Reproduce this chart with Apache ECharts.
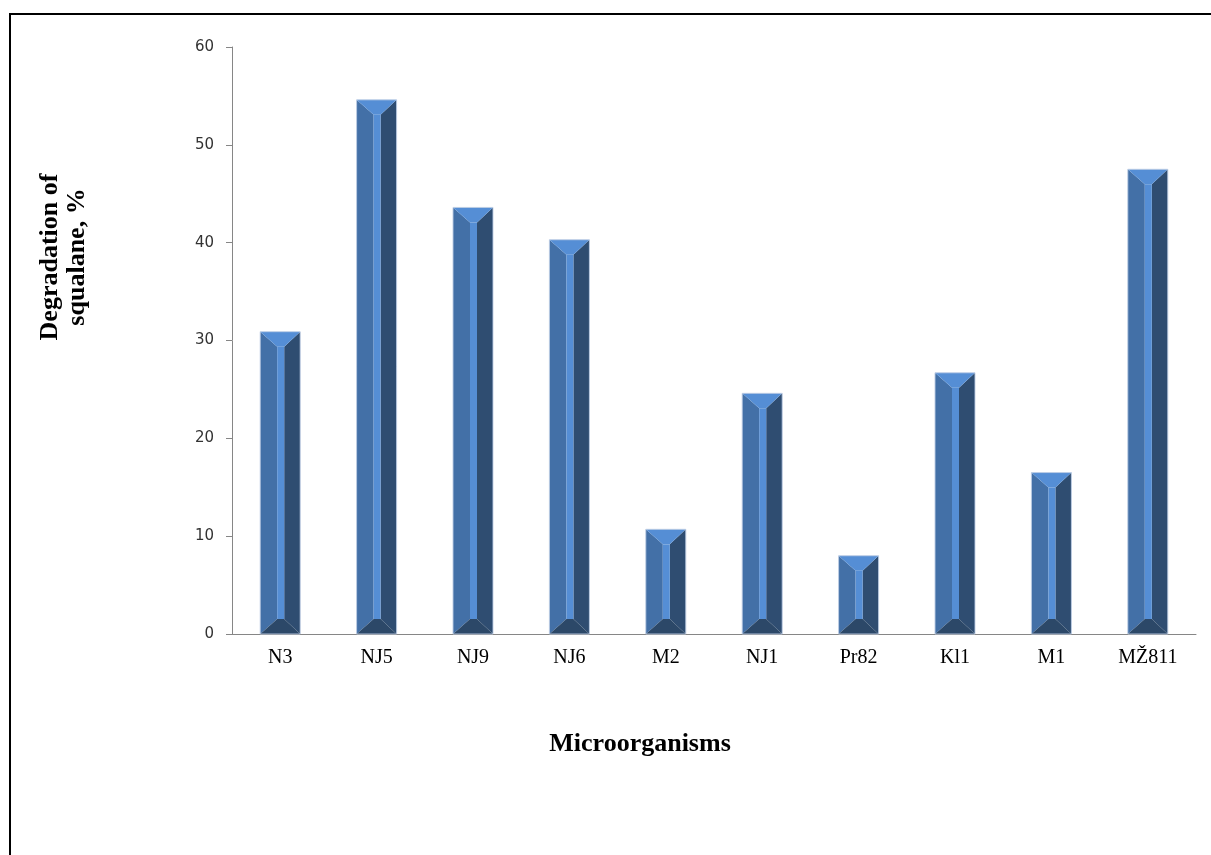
<!DOCTYPE html>
<html>
<head>
<meta charset="utf-8">
<script src="https://cdn.jsdelivr.net/npm/echarts@6/dist/echarts.min.js"></script>
<style>
  html, body { margin: 0; padding: 0; background: #fff; }
  #chart { width: 1211px; height: 855px; }
</style>
</head>
<body>
<div id="chart"></div>
<script>
// data
var categories = ["N3", "NJ5", "NJ9", "NJ6", "M2", "NJ1", "Pr82", "Kl1", "M1", "MŽ811"];
var degradation = [30.9, 54.6, 43.6, 40.3, 10.7, 24.6, 8.0, 26.7, 16.5, 47.5];
var yTicks = { min: 0, max: 60, step: 10 };

var chart = echarts.init(document.getElementById("chart"));

// bevelled column like the office 3D style
function renderBar(params, api) {
  var top = api.coord([api.value(0), api.value(1)]);
  var base = api.coord([api.value(0), 0]);
  var w = 40;
  var x0 = top[0] - w / 2;
  var x1 = x0 + w;
  var xL = x0 + 17;
  var xR = x0 + 24;
  var yT = top[1];
  var yB = base[1];
  var d = Math.min(15, (yB - yT) / 2);
  return {
    type: "group",
    children: [
      { type: "polygon", shape: { points: [[x0, yT], [xL, yT + d], [xL, yB - d], [x0, yB]] }, style: { fill: "#4370A7" } },
      { type: "polygon", shape: { points: [[x1, yT], [xR, yT + d], [xR, yB - d], [x1, yB]] }, style: { fill: "#2F4D71" } },
      { type: "polygon", shape: { points: [[x0, yT], [x1, yT], [xR, yT + d], [xL, yT + d]] }, style: { fill: "#558ED5" } },
      { type: "rect", shape: { x: xL, y: yT + d, width: xR - xL, height: yB - yT - 2 * d }, style: { fill: "#558ED5" } },
      { type: "polygon", shape: { points: [[x0, yB], [xL, yB - d], [xR, yB - d], [x1, yB]] }, style: { fill: "#2C4868" } },
      { type: "rect", shape: { x: x0, y: yT, width: w, height: yB - yT }, style: { fill: null, stroke: "rgba(190,205,228,0.9)", lineWidth: 1 } }
    ]
  };
}

var option = {
  animation: false,
  grid: { left: 232, top: 47, right: 15, bottom: 221 },
  xAxis: {
    type: "category",
    data: categories,
    axisLine: { lineStyle: { color: "#868686", width: 1 } },
    axisTick: { show: false },
    axisLabel: { color: "#000", fontFamily: "Liberation Serif", fontSize: 20, margin: 14 },
    splitLine: { show: false }
  },
  yAxis: {
    type: "value",
    min: yTicks.min,
    max: yTicks.max,
    interval: yTicks.step,
    axisLine: { show: true, lineStyle: { color: "#868686", width: 1 } },
    axisTick: { show: true, length: 6, lineStyle: { color: "#868686" } },
    axisLabel: { color: "#333", fontFamily: "DejaVu Sans", fontSize: 15, margin: 18 },
    splitLine: { show: false }
  },
  graphic: [
    {
      type: "rect",
      shape: { x: 10, y: 14, width: 1300, height: 1000 },
      style: { fill: null, stroke: "#000", lineWidth: 2 },
      silent: true
    },
    {
      type: "text",
      x: 640, y: 744,
      style: {
        text: "Microorganisms",
        fill: "#000",
        font: "bold 26px 'Liberation Serif'",
        align: "center",
        verticalAlign: "middle"
      }
    },
    {
      type: "text",
      x: 64, y: 257,
      rotation: Math.PI / 2,
      style: {
        text: "Degradation of\nsqualane, %",
        fill: "#000",
        font: "bold 26px 'Liberation Serif'",
        lineHeight: 27,
        align: "center",
        verticalAlign: "middle"
      }
    }
  ],
  series: [
    {
      type: "custom",
      renderItem: renderBar,
      encode: { x: 0, y: 1 },
      data: degradation.map(function (v, i) { return [i, v]; })
    }
  ]
};

chart.setOption(option);
</script>
</body>
</html>
